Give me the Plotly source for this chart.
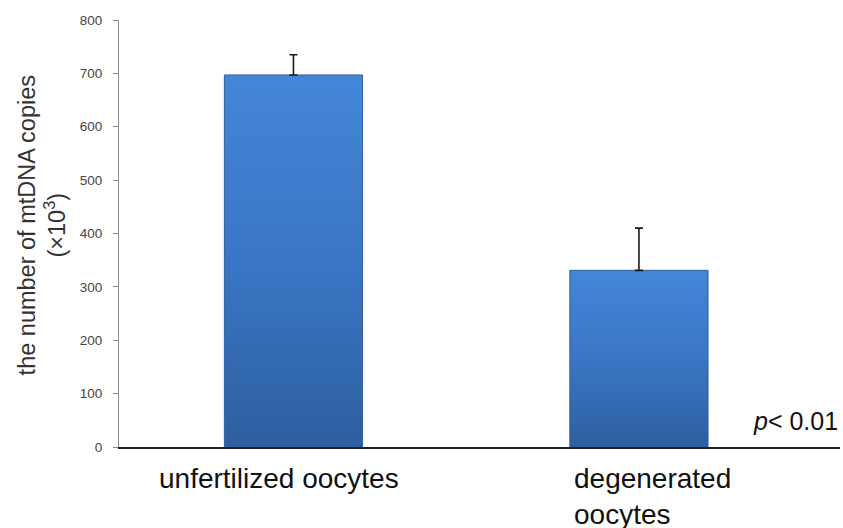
import plotly.graph_objects as go

# Mean mtDNA copy number (x10^3) per oocyte group, with upper error
groups = ["unfertilized oocytes", "degenerated<br>oocytes"]
copies = [697, 331]
err_up = [38, 79]
yticks = [0, 100, 200, 300, 400, 500, 600, 700, 800]

FONT = "Arial, Liberation Sans, sans-serif"
xpos = list(range(len(groups)))
BAR_W = 0.40

fig = go.Figure()

# Bars drawn as filled rectangles so they can carry a vertical shading
for i, v in zip(xpos, copies):
    x0, x1 = i - BAR_W / 2, i + BAR_W / 2
    fig.add_trace(go.Scatter(
        x=[x0, x1, x1, x0, x0], y=[0, 0, v, v, 0],
        mode="lines", fill="toself",
        line=dict(color="#2d5e9e", width=1),
        fillgradient=dict(type="vertical",
                          colorscale=[[0, "#2d5f9f"], [0.5, "#3a76c5"], [1, "#4486d8"]]),
        hoverinfo="skip", showlegend=False,
    ))

# Upper error bars
fig.add_trace(go.Scatter(
    x=xpos, y=copies, mode="markers",
    marker=dict(size=1, color="rgba(0,0,0,0)"),
    error_y=dict(type="data", symmetric=False, array=err_up,
                 arrayminus=[0] * len(copies),
                 color="#1a1a1a", thickness=1.6, width=4),
    showlegend=False,
))

# Category labels beneath the bars
label_shift = [-14, 14]
for i, (g, s) in enumerate(zip(groups, label_shift)):
    fig.add_annotation(
        x=xpos[i], xref="x", y=0, yref="paper", yanchor="top",
        xanchor="center", align="left", xshift=s, yshift=-14,
        text=g, showarrow=False,
        font=dict(family=FONT, size=28, color="#111111"),
    )

# Significance note
fig.add_annotation(
    x=1, xref="paper", xanchor="right", y=49, yref="y", yanchor="middle",
    text="<i>p</i>< 0.01", showarrow=False,
    font=dict(family=FONT, size=25, color="#111111"),
)

# Y-axis title
fig.add_annotation(
    x=-0.106, xref="paper", xanchor="center", y=0.518, yref="paper",
    yanchor="middle", textangle=-90, showarrow=False,
    text="the number of mtDNA copies<br>(×10<sup>3</sup>)",
    font=dict(family=FONT, size=23.5, color="#333333"),
)

fig.update_layout(
    width=843, height=528,
    margin=dict(l=119, r=3, t=20, b=81),
    paper_bgcolor="white", plot_bgcolor="white",
)
fig.update_xaxes(
    range=[-0.505, 1.582], showticklabels=False, showgrid=False,
    zeroline=False, showline=True, linecolor="#222222", linewidth=1.5,
    ticks="",
)
fig.update_yaxes(
    range=[0, 800], tickvals=yticks, showgrid=False, zeroline=False,
    showline=True, linecolor="#8a8a8a", linewidth=1,
    ticks="outside", ticklen=5, tickcolor="#8a8a8a",
    ticklabelstandoff=8,
    tickfont=dict(family=FONT, size=13.5, color="#444444"),
)

fig.write_html("out.html")
